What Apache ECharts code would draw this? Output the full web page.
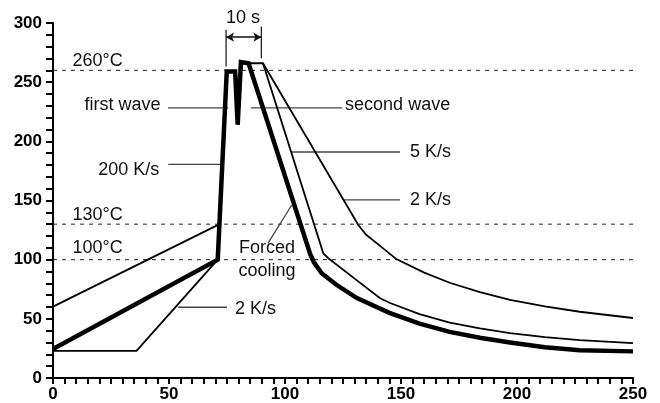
<!DOCTYPE html>
<html><head><meta charset="utf-8">
<script src="https://cdn.jsdelivr.net/npm/echarts@6/dist/echarts.min.js"></script>
<style>html,body{margin:0;padding:0;background:#fff}#c{width:660px;height:403px}</style>
</head><body><div id="c"></div>
<script>
// ---- axis ranges / ticks ----
const xMin = 0, xMax = 250, xStep = 50;
const yMin = 0, yMax = 300, yStep = 50;

// ---- reference temperature levels ----
const refLevels = [260, 130, 100];
const refLabels = ['260°C', '130°C', '100°C'];

// ---- profiles [time s, temperature °C] ----
const thickProfile = [[0,24.5],[71,100],[74.9,259],[78.5,259],[79.6,214],[81,267],[84.3,266],
  [110.8,105],[112.4,98],[115.8,88.5],[122,79],[131,67.5],[145,55],[158,46],[171,39],
  [184,34],[197,30],[212,26],[227,23.5],[250,22.5]];
const preheatHigh = [[0,60.3],[71.8,130]];
const preheatLow = [[0,23],[36,23],[71,100]];
const cooling5Ks = [[84.3,266],[90.5,266],[116.5,105.4],[118.7,101.2],[130,84],[141,67.4],
  [145.3,63.4],[158,54],[171,46.8],[184,42],[197,38],[212,34.5],[227,32],[250,29.5]];
const cooling2Ks = [[90.5,266],[131.6,129.3],[135,121],[139.5,114],[148,100.5],[160,89],
  [171,80.5],[184,72.5],[197,66],[212,60.5],[227,56],[250,50.7]];

// ---- annotation pointers (data coords) ----
const ptrFirstWave = [[49.6,228.2],[75.5,228.2]];
const ptrSecondWave = [[85.3,228.2],[124.6,228.2]];
const ptr200Ks = [[49.7,180.6],[72,180.6]];
const ptr5Ks = [[103,191],[149.6,191]];
const ptr2KsUpper = [[125,150.5],[149.6,150.5]];
const ptr2KsLower = [[53.9,59.8],[75,59.8]];
const ptrForced = [[92.7,114],[102.9,146.2]];
const bracketLeft = [[74.6,294.2],[74.6,263.2]];
const bracketRight = [[89.8,297],[89.8,270.2]];
const bracketArrow = [[74.6,288],[89.8,288]];

// ---- annotation texts ----
const texts = [
  {t:'10 s', p:[81.9,303.9], a:'center'},
  {t:'first wave', p:[46.3,230.6], a:'right'},
  {t:'second wave', p:[125.9,230.4], a:'left'},
  {t:'200 K/s', p:[45.8,175.4], a:'right'},
  {t:'5 K/s', p:[153.9,190.6], a:'left'},
  {t:'2 K/s', p:[153.9,150], a:'left'},
  {t:'2 K/s', p:[78.4,58.7], a:'left'},
  {t:'Forced', p:[92.2,109.5], a:'center'},
  {t:'cooling', p:[92.2,90.4], a:'center'},
  {t:refLabels[0], p:[19.2,267.5], a:'center'},
  {t:refLabels[1], p:[19.2,137.8], a:'center'},
  {t:refLabels[2], p:[19.2,109.5], a:'center'}
];

const FONT = 'Liberation Sans, Arial, sans-serif';
function lineSeries(data, width, color, extra) {
  return Object.assign({
    type: 'line', data: data, symbol: 'none', showSymbol: false, silent: true,
    animation: false, clip: false,
    lineStyle: {width: width, color: color, join: 'miter', cap: 'butt'}
  }, extra || {});
}

const series = [];
refLevels.forEach(v => {
  series.push(lineSeries([[xMin, v], [xMax, v]], 1, '#222', {
    lineStyle: {width: 1, color: '#222', type: [4, 5]}
  }));
});
[ptrFirstWave, ptrSecondWave, ptr200Ks, ptr5Ks, ptr2KsUpper, ptr2KsLower, ptrForced].forEach(d => {
  series.push(lineSeries(d, 1.3, '#444'));
});
series.push(lineSeries(bracketLeft, 1.2, '#111'));
series.push(lineSeries(bracketRight, 1.2, '#111'));
series.push({
  type: 'line', data: [], silent: true, animation: false,
  markLine: {
    silent: true, animation: false, symbol: ['arrow', 'arrow'], symbolSize: [7, 8],
    label: {show: false},
    lineStyle: {color: '#111', width: 1.5, type: 'solid'},
    data: [[{coord: bracketArrow[0]}, {coord: bracketArrow[1]}]]
  }
});
series.push(lineSeries(preheatHigh, 1.8, '#000'));
series.push(lineSeries(preheatLow, 1.8, '#000'));
series.push(lineSeries(cooling5Ks, 1.8, '#000'));
series.push(lineSeries(cooling2Ks, 1.8, '#000'));
series.push(lineSeries(thickProfile, 4.5, '#000'));

const axisCommon = {
  type: 'value',
  axisLine: {show: true, onZero: false, lineStyle: {color: '#000', width: 2}},
  axisTick: {show: true, lineStyle: {color: '#000', width: 2}},
  minorTick: {show: true, lineStyle: {color: '#000', width: 2}},
  splitLine: {show: false},
  axisLabel: {color: '#000', fontFamily: FONT, fontSize: 17, fontWeight: 'bold'}
};

const chart = echarts.init(document.getElementById('c'));
chart.setOption({
  animation: false,
  backgroundColor: '#fff',
  grid: {left: 53, right: 27, top: 23, bottom: 25, containLabel: false},
  xAxis: Object.assign({}, axisCommon, {
    min: xMin, max: xMax, interval: xStep,
    axisTick: {show: true, length: 6, lineStyle: {color: '#000', width: 2}},
    minorTick: {show: true, splitNumber: 10, length: 6, lineStyle: {color: '#000', width: 2}},
    axisLabel: Object.assign({}, axisCommon.axisLabel, {margin: 8})
  }),
  yAxis: Object.assign({}, axisCommon, {
    min: yMin, max: yMax, interval: yStep,
    axisTick: {show: true, length: 7, lineStyle: {color: '#000', width: 2}},
    minorTick: {show: true, splitNumber: 5, length: 7, lineStyle: {color: '#000', width: 2}},
    axisLabel: Object.assign({}, axisCommon.axisLabel, {margin: 11})
  }),
  series: series
});

const graphic = texts.map(o => {
  const px = chart.convertToPixel({gridIndex: 0}, o.p);
  return {
    type: 'text', x: px[0], y: px[1], silent: true,
    style: {text: o.t, fill: '#111', font: '18px ' + FONT, align: o.a, verticalAlign: 'middle'}
  };
});
chart.setOption({graphic: graphic});
</script></body></html>
